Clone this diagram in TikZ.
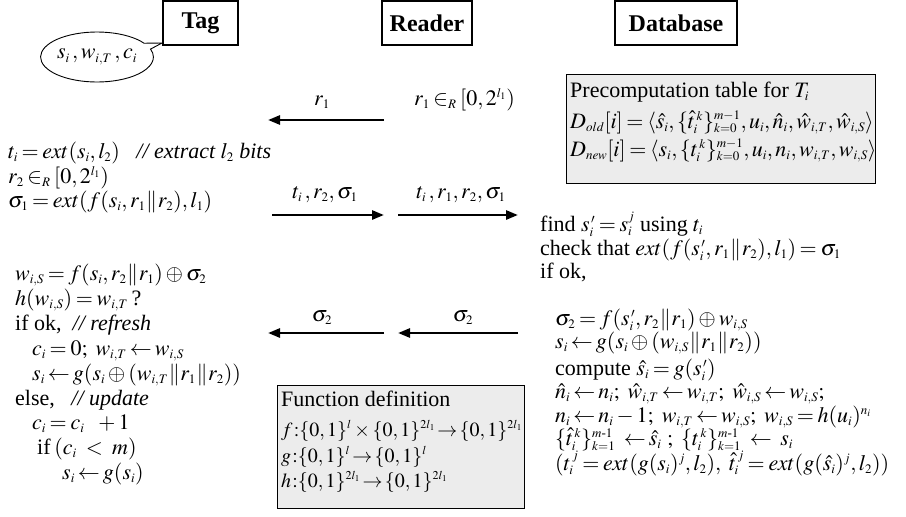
\documentclass[tikz,border=0pt]{standalone}
\usepackage{amsmath}
\usepackage{mathptmx}
\usepackage[no-math]{fontspec}
\setmainfont{Liberation Serif}
\usetikzlibrary{arrows.meta,shapes.callouts}
\DeclareMathSizes{22}{22}{13}{10}
\DeclareMathSizes{20}{20}{12}{9}
\newcommand{\cc}{\mathbin{\mkern-2mu\|\mkern-2mu}}
\newcommand{\fcolon}{\mkern1mu{:}}
\newcommand{\lar}{\mathrel{\mkern-0.5mu\leftarrow\mkern-0.5mu}}
\newcommand{\rar}{\mathrel{\mkern-1mu\rightarrow\mkern-1mu}}
\thickmuskip=3mu plus 1mu
\medmuskip=2.5mu plus 1mu
\thinmuskip=2mu
\begin{document}
\begin{tikzpicture}[x=1pt,y=-1pt,
  every node/.style={font=\fontsize{22}{24}\selectfont, inner sep=0pt},
  txt/.style={anchor=base west},
  ftxt/.style={anchor=base west, font=\fontsize{20}{22}\selectfont},
  lbl/.style={anchor=base},
  hdr/.style={draw, line width=1.3pt, minimum height=44pt, font=\fontsize{24}{26}\selectfont\bfseries},
  msg/.style={line width=2.6pt, -{Triangle[length=12pt,width=9pt]}},
  gbox/.style={draw, line width=0.9pt, fill=gray!15}]
\useasboundingbox (0,0) rectangle (906,517);

% headers
\node[hdr, minimum width=75pt] (tag) at (200.5,23) {Tag};
\node[hdr, minimum width=90pt] (reader) at (427,23) {Reader};
\node[hdr, minimum width=122pt] (db) at (676,23) {Database};

% speech bubble
\node[ellipse callout, draw, line width=0.9pt, minimum width=111pt, minimum height=50pt,
  callout absolute pointer={(162,43)}] (mem) at (97,57) {$s_i\,,w_{i,T}\,,c_i$};

% gray boxes
\node[gbox, minimum width=309pt, minimum height=109pt] (pre) at (720.5,128.5) {};
\node[gbox, minimum width=247pt, minimum height=123pt] (fun) at (400.5,446.5) {};

\node[txt] (p1) at (570,97) {Precomputation table for $T_i$};
\node[txt] (p2) at (570,128) {$D_{old}[i]=\langle \hat{s}_i,\{\hat{t}_i^{\,k}\}_{k=0}^{m-1},u_i,\hat{n}_i,\hat{w}_{i,T},\hat{w}_{i,S}\rangle$};
\node[txt] (p3) at (570,156) {$D_{new}[i]=\langle s_i,\{t_i^{\,k}\}_{k=0}^{m-1},u_i,n_i,w_{i,T},w_{i,S}\rangle$};

\node[txt] (f0) at (281,406) {Function definition};
\node[ftxt] (f1) at (281,436) {$f\fcolon\{0,1\}^l\times\{0,1\}^{2l_1}\rar\{0,1\}^{2l_1}$};
\node[ftxt] (f2) at (281,462) {$g\fcolon\{0,1\}^l\rar\{0,1\}^l$};
\node[ftxt] (f3) at (281,487) {$h\fcolon\{0,1\}^{2l_1}\rar\{0,1\}^{2l_1}$};

% arrows
\coordinate (a1s) at (384,120); \coordinate (a1e) at (268,120);
\coordinate (a2s) at (272,215); \coordinate (a2e) at (384,215);
\coordinate (a3s) at (398,215); \coordinate (a3e) at (518,215);
\coordinate (a4s) at (384,333); \coordinate (a4e) at (268,333);
\coordinate (a5s) at (518,333); \coordinate (a5e) at (398,333);
\draw[msg] (a1s) -- (a1e);
\draw[msg] (a2s) -- (a2e);
\draw[msg] (a3s) -- (a3e);
\draw[msg] (a4s) -- (a4e);
\draw[msg] (a5s) -- (a5e);

\node[lbl] (l1) at (322,105) {$r_1$};
\node[txt] (rr) at (414,105) {$r_1\in_R[0,2^{l_1})$};
\node[lbl] (l2) at (325,198) {$t_i\,,r_2,\sigma_1$};
\node[lbl] (l3) at (461,198) {$t_i\,,r_1,r_2,\sigma_1$};
\node[lbl] (l4) at (322,321) {$\sigma_2$};
\node[lbl] (l5) at (463,321) {$\sigma_2$};

% tag, first part
\node[txt] (t1) at (8,158) {$t_i=ext(s_i,l_2)$\ \ \ \textit{// extract $l_2$ bits}};
\node[txt] (t2) at (8,183) {$r_2\in_R[0,2^{l_1})$};
\node[txt] (t3) at (8,207) {$\sigma_1=ext(f(s_i,r_1\cc r_2),l_1)$};

% tag, second part
\node[txt] (u1) at (15,280) {$w_{i,S}=f(s_i,r_2\cc r_1)\oplus\sigma_2$};
\node[txt] (u2) at (15,305) {$h(w_{i,S})=w_{i,T}$\,?};
\node[txt] (u3) at (15,330) {if ok,\ \ \textit{// refresh}};
\node[txt] (u4) at (32,355) {$c_i=0;\ w_{i,T}\lar w_{i,S}$};
\node[txt] (u5) at (32,380) {$s_i\lar g(s_i\oplus(w_{i,T}\cc r_1\cc r_2))$};
\node[txt] (u6) at (15,405) {else,\ \ \ \textit{// update}};
\node[txt] (u7) at (32,429) {$c_i=c_i\ \ +1$};
\node[txt] (u8) at (37,454) {if\,$(c_i\ <\ m)$};
\node[txt] (u9) at (62,479) {$s_i\lar g(s_i)$};

% database
\node[txt] (d1) at (540,231) {find $s_i^{\,\prime}=s_i^j$\ using $t_i$};
\node[txt] (d2) at (540,255) {check that $ext(f(s_i^{\,\prime},r_1\cc r_2),l_1)=\sigma_1$};
\node[txt] (d3) at (540,278) {if ok,};
\node[txt] (d4) at (555,325) {$\sigma_2=f(s_i^{\,\prime},r_2\cc r_1)\oplus w_{i,S}$};
\node[txt] (d5) at (555,348) {$s_i\lar g(s_i\oplus(w_{i,S}\cc r_1\cc r_2))$};
\node[txt] (d6) at (555,375) {compute $\hat{s}_i=g(s_i^{\,\prime})$};
\node[txt] (d7) at (555,398) {$\hat{n}_i\lar n_i;\ \hat{w}_{i,T}\lar w_{i,T};\ \hat{w}_{i,S}\lar w_{i,S};$};
\node[txt] (d8) at (555,422) {$n_i\lar n_i-1;\ w_{i,T}\lar w_{i,S};\ w_{i,S}=h(u_i)^{n_i}$};
\node[txt] (d9) at (555,445) {$\{\hat{t}_i^{\,k}\}_{k=1}^{m\text{-}1}\ \lar\hat{s}_i\ ;\ \{t_i^{\,k}\}_{k=1}^{m\text{-}1}\ \lar\ s_i$};
\node[txt] (d10) at (555,470) {$(t_i^{\,j}=ext(g(s_i)^j,l_2),\ \hat{t}_i^{\,j}=ext(g(\hat{s}_i)^j,l_2))$};
\end{tikzpicture}
\end{document}
